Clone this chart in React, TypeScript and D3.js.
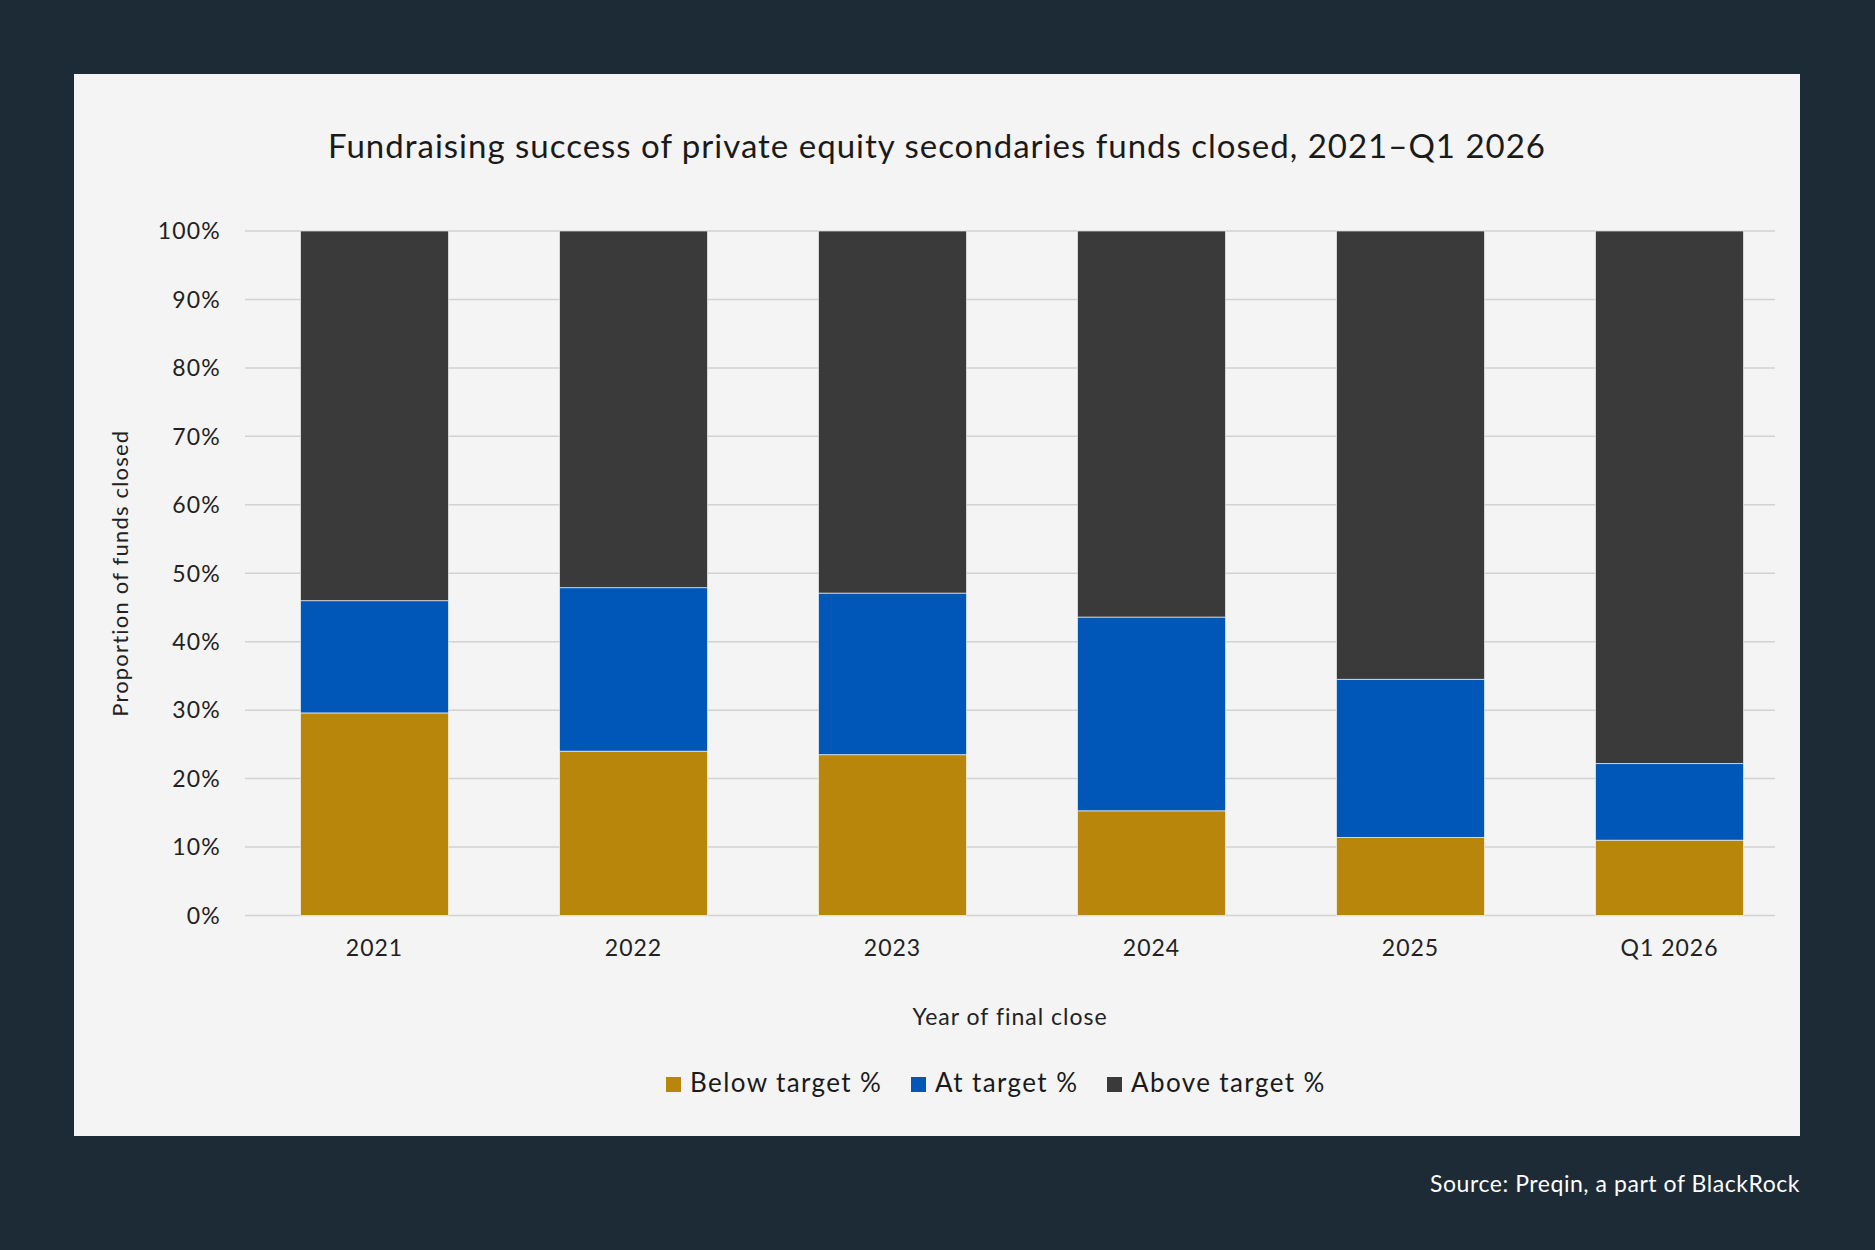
import React from 'react';
import * as d3 from 'd3';

// Share of secondaries funds closed, by outcome vs target (%)
const years = ['2021', '2022', '2023', '2024', '2025', 'Q1 2026'];
const belowTarget = [29.6, 24.0, 23.5, 15.3, 11.4, 11.0];
const atTarget = [16.4, 23.9, 23.6, 28.3, 23.1, 11.2];
const aboveTarget = [54.0, 52.1, 52.9, 56.4, 65.5, 77.8];
const yTicks = [0, 10, 20, 30, 40, 50, 60, 70, 80, 90, 100];

const seriesNames = ['Below target %', 'At target %', 'Above target %'];
const seriesColors = ['#B8860B', '#0057B8', '#3A3A3A'];

const W = 1875;
const H = 1250;
const FONT = 'Lato, "Noto Sans", sans-serif';

export default function App() {
  const gridLeft = 245;
  const gridRight = 1775;
  const top = 231;
  const bottom = 915.5;

  const x = d3.scaleBand<string>()
    .domain(years)
    .range([gridLeft, gridLeft + 6 * 259])
    .paddingInner(0.4286)
    .paddingOuter(0.2143);

  const y = d3.scaleLinear().domain([0, 100]).range([bottom, top]);

  const rows = years.map((year, i) => ({
    year,
    below: belowTarget[i],
    at: atTarget[i],
    above: aboveTarget[i],
  }));
  const stacked = d3.stack<any>().keys(['below', 'at', 'above'])(rows);

  const legendItems = [
    { x: 666, textX: 690 },
    { x: 911, textX: 935 },
    { x: 1107, textX: 1131 },
  ];

  return (
    <svg width={W} height={H} style={{ position: 'absolute', left: 0, top: 0 }}
      fontFamily={FONT}>
      <rect x={0} y={0} width={W} height={H} fill="#1C2B36" />
      <rect x={74} y={74} width={1726} height={1062} fill="#F4F4F4" />

      <text x={937} y={158} textAnchor="middle" fontSize={33} letterSpacing={1}
        fill="#1a1a1a">
        Fundraising success of private equity secondaries funds closed, 2021–Q1 2026
      </text>

      {/* gridlines and y labels */}
      {yTicks.map(t => (
        <g key={t}>
          <line x1={gridLeft} x2={gridRight} y1={y(t)} y2={y(t)}
            stroke="#D2D2D2" strokeWidth={1.5} />
          <text x={221} y={y(t)} dy="0.36em" textAnchor="end" fontSize={23}
            letterSpacing={1.2} fill="#222">
            {t}%
          </text>
        </g>
      ))}

      {/* stacked bars */}
      {stacked.map((layer, si) => (
        <g key={layer.key} fill={seriesColors[si]}>
          {layer.map(d => (
            <rect key={d.data.year}
              x={x(d.data.year)}
              y={y(d[1])}
              width={x.bandwidth()}
              height={y(d[0]) - y(d[1])}
              stroke="#ffffff" strokeOpacity={0.6} strokeWidth={1} />
          ))}
        </g>
      ))}

      {/* x labels */}
      {years.map(yr => (
        <text key={yr} x={(x(yr) as number) + x.bandwidth() / 2} y={956}
          textAnchor="middle" fontSize={23} letterSpacing={1} fill="#222">{yr}</text>
      ))}

      <text x={(gridLeft + gridRight) / 2} y={1025} textAnchor="middle" fontSize={23}
        letterSpacing={1} fill="#222">
        Year of final close
      </text>

      <text transform={`translate(128, ${(top + bottom) / 2}) rotate(-90)`}
        textAnchor="middle" fontSize={22} letterSpacing={1.2} fill="#222">
        Proportion of funds closed
      </text>

      {/* legend */}
      {seriesNames.map((name, i) => (
        <g key={name}>
          <rect x={legendItems[i].x} y={1077} width={15} height={15} fill={seriesColors[i]} />
          <text x={legendItems[i].textX} y={1092} fontSize={26} letterSpacing={1.4}
            fill="#1a1a1a">{name}</text>
        </g>
      ))}

      <text x={1800} y={1192} textAnchor="end" fontSize={23} letterSpacing={0.55}
        fill="#ffffff">
        Source: Preqin, a part of BlackRock
      </text>
    </svg>
  );
}
